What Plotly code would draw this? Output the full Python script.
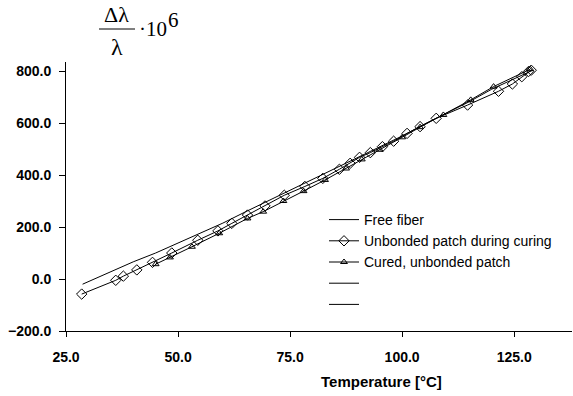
import plotly.graph_objects as go

# Data
free_T = [28.7, 32, 36, 40, 45, 50, 55, 60, 65, 70, 75, 80, 85, 90, 95, 100, 105, 110, 115, 120, 125, 129]
free_v = [-20, 6, 35, 66, 100, 138, 176, 215, 258, 300, 343, 384, 424, 468, 508, 550, 596, 640, 682, 730, 770, 802]

unb_T = [28.5, 36.1, 37.8, 40.8, 44.3, 48.6, 54.4, 58.9, 62.0, 65.5, 69.4, 73.7, 78.3, 82.3, 86.0, 88.4,
         90.5, 92.9, 95.6, 98.1, 101.1, 104.0, 107.6, 114.6, 121.5, 124.6, 126.7, 128.2, 128.8]
unb_v = [-58, -5, 11, 35, 64, 100, 149, 185, 214, 246, 281, 322, 356, 387, 422, 445,
         468, 486, 509, 530, 560, 586, 618, 669, 722, 750, 778, 798, 803]

cur_T = [45.0, 48.2, 53.1, 59.2, 65.5, 69.0, 73.5, 78.0, 82.8, 87.5, 91.0, 95.0, 100.0, 104.0, 109.2, 115.3, 120.4, 128.6]
cur_v = [57, 83, 124, 176, 233, 259, 300, 338, 381, 425, 460, 497, 545, 584, 631, 689, 740, 807]

x_ticks = [25, 50, 75, 100, 125]
y_ticks = [-200, 0, 200, 400, 600, 800]

# plot area in page pixels
W, H = 573, 396
PL, PR, PT, PB = 66, 572, 62, 331
PW, PH = PR - PL, PB - PT


def px(x):
    return (x - PL) / PW


def py(y):
    return (PB - y) / PH


fig = go.Figure()
line = dict(color="black", width=1)
fig.add_trace(go.Scatter(x=free_T, y=free_v, mode="lines", name="Free fiber", line=line))
fig.add_trace(go.Scatter(x=unb_T, y=unb_v, mode="lines+markers", name="Unbonded patch during curing",
                         line=line, marker=dict(symbol="diamond-open", size=8, color="black", line=dict(width=1))))
fig.add_trace(go.Scatter(x=cur_T, y=cur_v, mode="lines+markers", name="Cured, unbonded patch",
                         line=line, marker=dict(symbol="triangle-up-open", size=6, color="black", line=dict(width=1))))
fig.add_trace(go.Scatter(x=[None], y=[None], mode="lines", name="\u00a0", line=line))
fig.add_trace(go.Scatter(x=[None], y=[None], mode="lines", name="\u00a0\u00a0", line=line))

axis_font = dict(family="Liberation Sans, Arial", size=14, color="black", weight="bold")
serif = "Liberation Serif, Times New Roman"
fig.update_layout(
    width=W, height=H,
    margin=dict(l=PL, r=W - PR, t=PT, b=H - PB),
    paper_bgcolor="white", plot_bgcolor="white",
    showlegend=True,
    legend=dict(x=px(324), y=py(204), xanchor="left", yanchor="top", bgcolor="rgba(0,0,0,0)",
                font=dict(family="Liberation Sans, Arial", size=14, color="black"),
                tracegroupgap=0, itemwidth=30),
    xaxis=dict(range=[25, 137.9], tickvals=x_ticks, tickformat=".1f", showgrid=False, zeroline=False,
               showline=True, linecolor="black", linewidth=1, ticks="outside", ticklen=5,
               tickcolor="black", tickfont=axis_font, ticklabelstandoff=8),
    yaxis=dict(range=[-200, 834.6], tickvals=y_ticks, tickformat=".1f", showgrid=False, zeroline=False,
               showline=True, linecolor="black", linewidth=1, ticks="outside", ticklen=6,
               tickcolor="black", tickfont=axis_font, ticklabelstandoff=5),
    annotations=[
        dict(text="<b>Temperature [°C]</b>", xref="paper", yref="paper", x=px(381.5), y=py(381),
             xanchor="center", yanchor="middle", showarrow=False,
             font=dict(family="Liberation Sans, Arial", size=15, color="black")),
        dict(text="Δλ", xref="paper", yref="paper", x=px(116), y=py(14.5),
             xanchor="center", yanchor="middle", showarrow=False,
             font=dict(family=serif, size=22, color="black")),
        dict(text="λ", xref="paper", yref="paper", x=px(117), y=py(47),
             xanchor="center", yanchor="middle", showarrow=False,
             font=dict(family=serif, size=24, color="black")),
        dict(text="·10", xref="paper", yref="paper", x=px(137), y=py(29),
             xanchor="left", yanchor="middle", showarrow=False,
             font=dict(family=serif, size=21, color="black")),
        dict(text="6", xref="paper", yref="paper", x=px(166), y=py(20),
             xanchor="left", yanchor="middle", showarrow=False,
             font=dict(family=serif, size=21, color="black")),
    ],
    shapes=[dict(type="line", xref="paper", yref="paper", x0=px(99), x1=px(135),
                 y0=py(29), y1=py(29), line=dict(color="black", width=1))],
)

fig.write_html("out.html", config={"displayModeBar": False},
               post_script="document.body.style.margin='0';")
